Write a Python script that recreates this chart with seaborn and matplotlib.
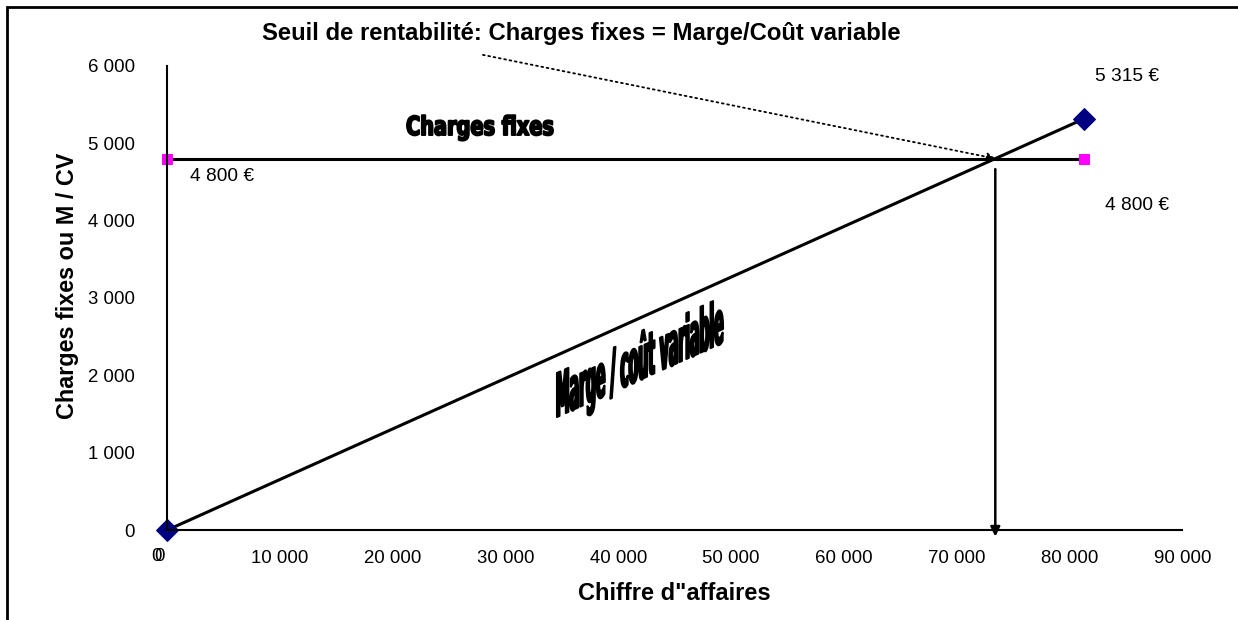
import math

import matplotlib
matplotlib.use("Agg")
import matplotlib.pyplot as plt
import matplotlib.transforms as mtransforms
from matplotlib.font_manager import FontProperties
from matplotlib.patches import PathPatch, Rectangle
from matplotlib.textpath import TextPath
from matplotlib.ticker import FuncFormatter
import seaborn as sns

# data
ca = [0, 81300]                 # chiffre d'affaires
marge_cv = [0, 5315]            # marge / coût variable
charges_fixes = [4800, 4800]
x_ticks = [0, 10000, 20000, 30000, 40000, 50000, 60000, 70000, 80000, 90000]
y_ticks = [0, 1000, 2000, 3000, 4000, 5000, 6000]

seuil = charges_fixes[1] / marge_cv[1] * ca[1]

sns.set_style("white")
plt.rcParams["font.family"] = ["Liberation Sans", "DejaVu Sans"]
plt.rcParams["text.color"] = "black"
plt.rcParams["axes.labelcolor"] = "black"
plt.rcParams["xtick.color"] = "black"
plt.rcParams["ytick.color"] = "black"

fig = plt.figure(figsize=(12.38, 6.2), dpi=100)
ax = fig.add_axes([0.135, 0.145, 0.82, 0.749])

sns.lineplot(x=ca, y=marge_cv, ax=ax, color="black", lw=2.2, marker="D",
             markersize=11, markerfacecolor="#000080", markeredgecolor="#000080")
sns.lineplot(x=ca, y=charges_fixes, ax=ax, color="black", lw=2.2, marker="s",
             markersize=7, markerfacecolor="#FF00FF", markeredgecolor="#FF00FF")
for ln in ax.lines:
    ln.set_clip_on(False)

ax.set_xlim(0, 90000)
ax.set_ylim(0, 6000)
ax.set_xticks(x_ticks)
ax.set_yticks(y_ticks)
fmt = FuncFormatter(lambda v, p: f"{int(v):,}".replace(",", " "))
ax.yaxis.set_major_formatter(fmt)
ax.xaxis.set_major_formatter(FuncFormatter(lambda v, p: "" if v == 0 else fmt(v, p)))
ax.tick_params(axis="both", direction="out", length=5, width=1.2, color="black",
               labelsize=13.4)
ax.tick_params(axis="y", pad=18)
ax.tick_params(axis="x", pad=9)
for side in ["top", "right"]:
    ax.spines[side].set_visible(False)
for side in ["left", "bottom"]:
    ax.spines[side].set_color("black")
    ax.spines[side].set_linewidth(1.5)

# the doubled "0" on the x axis
for dx in (-8, -5.5):
    ax.annotate("0", xy=(0, 0), xycoords=("data", "axes fraction"),
                xytext=(dx, -13), textcoords="offset points",
                ha="center", va="top", fontsize=13.4)

ax.set_xlabel("Chiffre d\"affaires", fontsize=17, fontweight="bold", labelpad=11)
ax.set_ylabel("Charges fixes ou M / CV", fontsize=16.8, fontweight="bold")
ax.yaxis.set_label_coords(-0.087, 0.525)

# value labels
ax.text(85100, 5860, "5 315 €", ha="center", va="center", fontsize=13.8)
ax.text(86000, 4190, "4 800 €", ha="center", va="center", fontsize=13.8)
ax.text(4900, 4565, "4 800 €", ha="center", va="center", fontsize=13.8)

# break-even arrows
ax.annotate("", xy=(seuil, -120), xytext=(seuil, 4700),
            arrowprops=dict(arrowstyle="-|>", color="black", lw=1.8, mutation_scale=14),
            annotation_clip=False)
ax.annotate("", xy=(seuil, 4800), xytext=(28000, 6140),
            arrowprops=dict(arrowstyle="-|>", color="black", lw=1.3, ls=(0, (1, 2)),
                            mutation_scale=12, shrinkA=0, shrinkB=0),
            annotation_clip=False)

fig.text(0.4695, 0.946, "Seuil de rentabilité: Charges fixes = Marge/Coût variable",
         ha="center", va="center", fontsize=17.2, fontweight="bold")

# frame around the chart area (open to the right and bottom)
fig.patches.append(Rectangle((7 / 1238, -0.1), 1.2, 1 - 7 / 620 + 0.1,
                             transform=fig.transFigure, fill=False,
                             edgecolor="black", lw=2))


def word_art(text, x0, y0, width, cap, slope=0.0, lw=1.0):
    """Heavy condensed text drawn as a path, in display pixels (y up)."""
    prop = FontProperties(family="DejaVu Sans", weight="bold")
    tp = TextPath((0, 0), text, size=100, prop=prop)
    cap_h = TextPath((0, 0), "H", size=100, prop=prop).get_extents().height
    ext = tp.get_extents()
    sx = width / ext.width
    sy = cap / cap_h
    tr = (mtransforms.Affine2D().translate(-ext.x0, 0).scale(sx, sy)
          .skew(0, slope).translate(x0, y0))
    fig.patches.append(PathPatch(tr.transform_path(tp), transform=mtransforms.IdentityTransform(),
                                 facecolor="black", edgecolor="black", lw=lw,
                                 joinstyle="round"))


H = 620
p0 = ax.transData.transform((ca[0], marge_cv[0]))
p1 = ax.transData.transform((ca[1], marge_cv[1]))
slope = (p1[1] - p0[1]) / (p1[0] - p0[0])
word_art("Charges fixes", 407, H - 135, 146, 19, lw=1.4)
word_art("Marge / coût variable", 557, H - 417, 166, 44, slope=math.atan(slope), lw=1.5)

fig.savefig("out.png", dpi=100)
